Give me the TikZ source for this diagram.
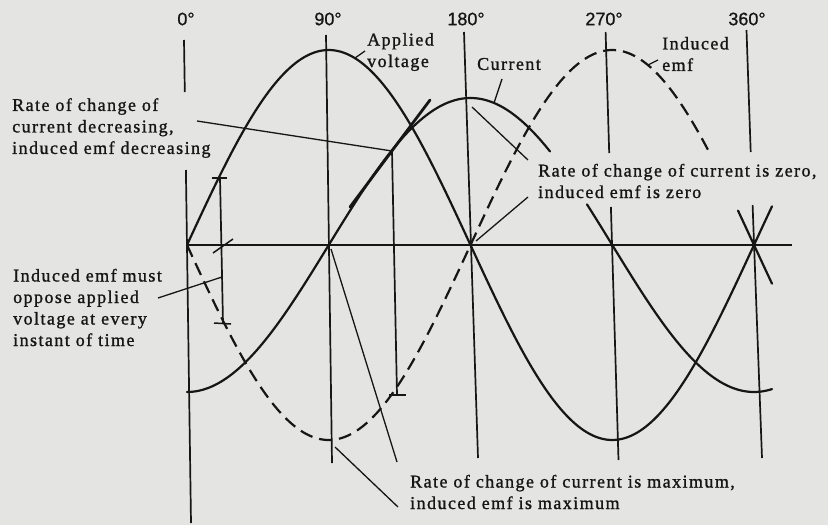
\documentclass[tikz,border=0pt]{standalone}
\usepackage{fontspec}
\setmainfont{Liberation Serif}[LetterSpace=8,FakeBold=1.2]
\newfontfamily\degfont{Liberation Sans}[FakeBold=0.8]
\definecolor{paper}{RGB}{228,228,226}
\definecolor{ink}{RGB}{22,22,22}
\begin{document}
\begin{tikzpicture}[x=1pt,y=-1pt,
  curve/.style={draw=ink, line width=2.2pt, line cap=round, line join=round},
  emfcurve/.style={draw=ink, line width=2.2pt, dash pattern=on 13pt off 7pt},
  guide/.style={draw=ink, line width=1.7pt},
  pointer/.style={draw=ink, line width=1.3pt},
  tickmark/.style={draw=ink, line width=1.5pt},
  tangent/.style={draw=ink, line width=2.8pt, line cap=round},
  lbl/.style={text=ink, font=\fontsize{18}{21.5}\selectfont, align=left, inner sep=0pt, anchor=west},
  deg/.style={text=ink, font=\degfont\fontsize{18}{20}\selectfont, inner sep=0pt}]
\fill[paper] (0,0) rectangle (828,525);
\useasboundingbox (0,0) rectangle (828,525);

% degree labels
\node[deg] (d0) at (186,19) {0°};
\node[deg] (d90) at (328,19) {90°};
\node[deg] (d180) at (466,19) {180°};
\node[deg] (d270) at (604,19) {270°};
\node[deg] (d360) at (747,19) {360°};

% axis
\coordinate (ax0) at (187,245);
\coordinate (axE) at (792,245);
\draw[guide] (ax0) -- (axE);

% vertical lines
\draw[guide] (184,40) -- (184.8,92);
\draw[guide] (185.9,170) -- (191,523);
\draw[guide] (326,35) -- (332,463);
\draw[guide] (464,32) -- (478,458);
\draw[guide] (605.6,32) -- (609.2,153);
\draw[guide] (610.9,207) -- (618.5,460);
\draw[guide] (746.5,30) -- (750.7,152);
\draw[guide] (752.6,205) -- (762,458);

% applied voltage
\draw[curve] plot[domain=187:772, samples=200] (\x, {245-195*sin((\x-187)*0.634921)});
% current
\draw[curve] plot[domain=187:550, samples=150] (\x, {245+147*cos((\x-187)*0.634921)});
\draw[curve] plot[domain=587:772, samples=80] (\x, {245+147*cos((\x-187)*0.634921)});
% induced emf
\draw[emfcurve] plot[domain=187:708, samples=200] (\x, {245+195*sin((\x-187)*0.634921)});
\draw[curve] plot[domain=738:772, samples=20] (\x, {245+195*sin((\x-187)*0.634921)});

% construction lines
\coordinate (va) at (220,178);
\coordinate (vb) at (223,323);
\draw[guide] (va) -- (vb);
\draw[tickmark] (212,178) -- (227,178);
\draw[tickmark] (213,253) -- (233,239);
\draw[tickmark] (214,323) -- (231,324);
\coordinate (ca) at (392,151);
\coordinate (cb) at (397,395);
\draw[guide] (ca) -- (cb);
\draw[tickmark] (389,395) -- (406,395);
\draw[tangent] (350,207) -- (430,100);

% labels
\node[lbl] (lrate) at (12,128) {Rate of change of\\current decreasing,\\induced emf decreasing};
\node[lbl] (lopp) at (13,307.5) {Induced emf must\\oppose applied\\voltage at every\\instant of time};
\node[lbl] (lzero) at (538,181) {Rate of change of current is zero,\\induced emf is zero};
\node[lbl] (lmax) at (410,492) {Rate of change of current is maximum,\\induced emf is maximum};
\node[lbl] (lapp) at (367,52) {Applied\\voltage};
\node[lbl] (lcur) at (477,64) {Current};
\node[lbl] (lemf) at (662,54) {Induced\\emf};

% pointers
\coordinate (p1) at (197,121);
\draw[pointer] (p1) -- (ca);
\coordinate (p2) at (158,298);
\coordinate (p2e) at (222,277);
\draw[pointer] (p2) -- (p2e);
\draw[pointer] (355,58) -- (365,51);
\draw[pointer] (494,103) -- (502,79);
\draw[pointer] (648,65) -- (658,60);
\draw[pointer] (472,107) -- (528,160);
\draw[pointer] (528,197) -- (476,241);
\draw[pointer] (331,249) -- (397,462);
\draw[pointer] (335,447) -- (398,507);
\end{tikzpicture}
\end{document}
